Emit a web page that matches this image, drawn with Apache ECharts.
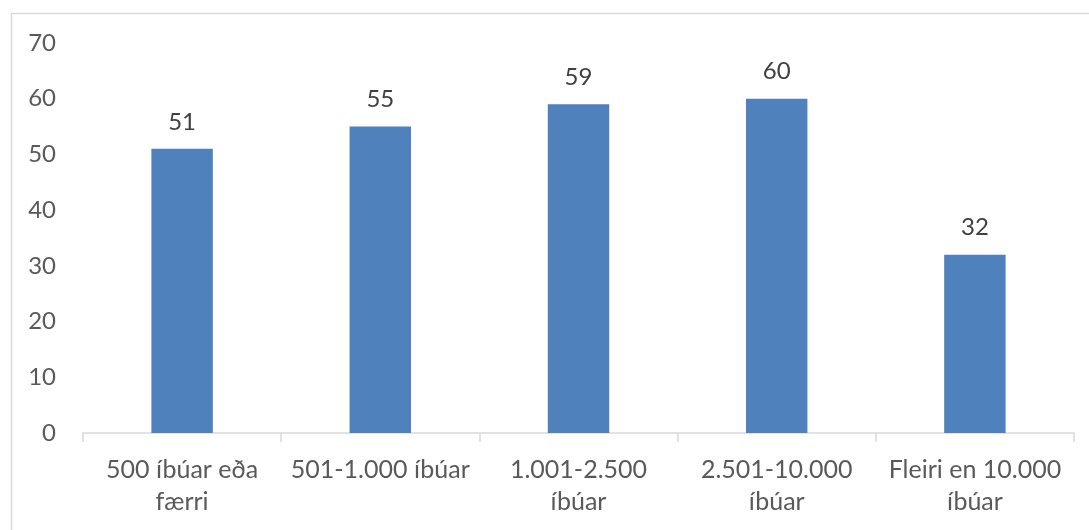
<!DOCTYPE html>
<html>
<head>
<meta charset="utf-8">
<script src="https://cdn.jsdelivr.net/npm/echarts@6/dist/echarts.min.js"></script>
<style>
html,body{margin:0;padding:0;background:#fff;}
#chart{width:1089px;height:530px;}
</style>
</head>
<body>
<div id="chart"></div>
<script>
const categories = ["500 íbúar eða\nfærri", "501-1.000 íbúar", "1.001-2.500\níbúar", "2.501-10.000\níbúar", "Fleiri en 10.000\níbúar"];
const values = [51, 55, 59, 60, 32];
const yTicks = { min: 0, max: 70, interval: 10 };

const chart = echarts.init(document.getElementById('chart'));
const font = 'Lato, "Noto Sans", sans-serif';
chart.setOption({
  animation: false,
  backgroundColor: '#fff',
  graphic: [{
    type: 'rect',
    shape: { x: 11.5, y: 13.5, width: 1200, height: 600 },
    style: { fill: 'none', stroke: '#d9d9d9', lineWidth: 1.5 },
    silent: true
  }],
  grid: { left: 83, right: 15, top: 43, bottom: 97 },
  xAxis: {
    type: 'category',
    data: categories,
    axisLine: { lineStyle: { color: '#d9d9d9', width: 1.5 } },
    axisTick: { show: true, alignWithLabel: false, length: 9, lineStyle: { color: '#d9d9d9', width: 1.5 } },
    axisLabel: { color: '#595959', fontSize: 25, fontFamily: font, margin: 21, lineHeight: 32, interval: 0 }
  },
  yAxis: {
    type: 'value',
    min: yTicks.min, max: yTicks.max, interval: yTicks.interval,
    axisLine: { show: false },
    axisTick: { show: false },
    splitLine: { show: false },
    axisLabel: { color: '#595959', fontSize: 24, fontFamily: font, margin: 27 }
  },
  series: [{
    type: 'bar',
    data: values,
    barWidth: '31%',
    itemStyle: { color: '#4f81bd' },
    label: { show: true, position: 'top', distance: 15, color: '#404040', fontSize: 24, fontFamily: font }
  }]
});
</script>
</body>
</html>
